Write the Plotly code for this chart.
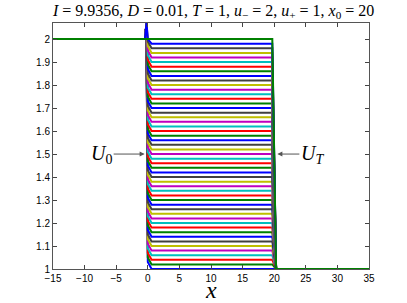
import plotly.graph_objects as go

# Levels of the intermediate plateau (0 < x < 20) for each curve
levels = [1.00, 1.02, 1.04, 1.06, 1.08, 1.10, 1.12, 1.14, 1.16, 1.18,
          1.20, 1.22, 1.24, 1.26, 1.28, 1.30, 1.32, 1.34, 1.36, 1.38,
          1.40, 1.42, 1.44, 1.46, 1.48, 1.50, 1.52, 1.54, 1.56, 1.58,
          1.60, 1.62, 1.64, 1.66, 1.68, 1.70, 1.72, 1.74, 1.76, 1.78,
          1.80, 1.82, 1.84, 1.86, 1.88, 1.90, 1.92, 1.94, 1.96, 1.98, 2.00]
u_minus = 2.0
u_plus = 1.0
spike_top = 2.07
overshoot = 0.03
# profile breakpoints in x
x_pts = [-15, -0.45, -0.2, 0.0, 0.6, 19.7, 20.3, 35]

colors = ["rgb(0,0,255)", "rgb(0,128,0)", "rgb(255,0,0)", "rgb(0,191,191)",
          "rgb(191,0,191)", "rgb(191,191,0)", "rgb(64,64,64)"]

xticks = [-15, -10, -5, 0, 5, 10, 15, 20, 25, 30, 35]
xtick_text = ["\u221215", "\u221210", "\u22125", "0", "5", "10", "15", "20", "25", "30", "35"]
yticks = [1, 1.1, 1.2, 1.3, 1.4, 1.5, 1.6, 1.7, 1.8, 1.9, 2]
ytick_text = ["1", "1.1", "1.2", "1.3", "1.4", "1.5", "1.6", "1.7", "1.8", "1.9", "2"]

fig = go.Figure()
n = len(levels)
for k, c in enumerate(levels):
    last = (k == n - 1)
    if last:
        ys = [u_minus, u_minus, u_minus, u_minus, u_minus, c, u_plus, u_plus]
    else:
        ys = [u_minus, u_minus, spike_top, min(c + overshoot, u_minus), c, c, u_plus, u_plus]
    fig.add_trace(go.Scatter(x=x_pts, y=ys, mode="lines",
                             line=dict(color=colors[k % 7], width=2),
                             showlegend=False, hoverinfo="skip"))

serif = "Liberation Serif, Times New Roman, serif"
fig.update_layout(
    width=407, height=303,
    margin=dict(l=53, r=38, t=23, b=34, autoexpand=False),
    plot_bgcolor="white", paper_bgcolor="white",
    title=dict(text="<i>I</i> = 9.9356, <i>D</i> = 0.01, <i>T</i> = 1, <i>u</i><sub>\u2212</sub> = 2, <i>u</i><sub>+</sub> = 1, <i>x</i><sub>0</sub> = 20",
               x=0.525, xanchor="center", y=0.985, yanchor="top", automargin=False,
               font=dict(family=serif, size=16, color="black")),
    xaxis=dict(range=[-15, 35], tickvals=xticks, ticktext=xtick_text, automargin=False,
               ticks="inside", ticklen=4, tickcolor="#444", showline=True,
               linecolor="#555", linewidth=1, mirror="ticks", showgrid=False,
               zeroline=False, tickfont=dict(family="Liberation Sans, Arial", size=10, color="black")),
    yaxis=dict(range=[1, spike_top], tickvals=yticks, ticktext=ytick_text, automargin=False,
               ticks="inside", ticklen=4, tickcolor="#444", showline=True,
               linecolor="#555", linewidth=1, mirror="ticks", showgrid=False,
               zeroline=False, tickfont=dict(family="Liberation Sans, Arial", size=10, color="black")),
    annotations=[
        dict(x=0.5, y=0, xref="paper", yref="paper", text="<i>x</i>", showarrow=False,
             xanchor="center", yanchor="top", yshift=-6,
             font=dict(family=serif, size=24, color="black")),
        dict(x=-0.5, y=1.5, xref="x", yref="y", ax=-31, ay=0, text="<i>U</i><sub>0</sub>",
             showarrow=True, arrowhead=2, arrowsize=1, arrowwidth=1, arrowcolor="#555",
             xanchor="right", font=dict(family=serif, size=20, color="black")),
        dict(x=20.5, y=1.5, xref="x", yref="y", ax=22, ay=0, text="<i>U</i><sub><i>T</i></sub>",
             showarrow=True, arrowhead=2, arrowsize=1, arrowwidth=1, arrowcolor="#555",
             xanchor="left", font=dict(family=serif, size=20, color="black")),
    ],
)
fig.write_html("out.html", config={"displayModeBar": False},
               post_script="document.body.style.margin='0';")
